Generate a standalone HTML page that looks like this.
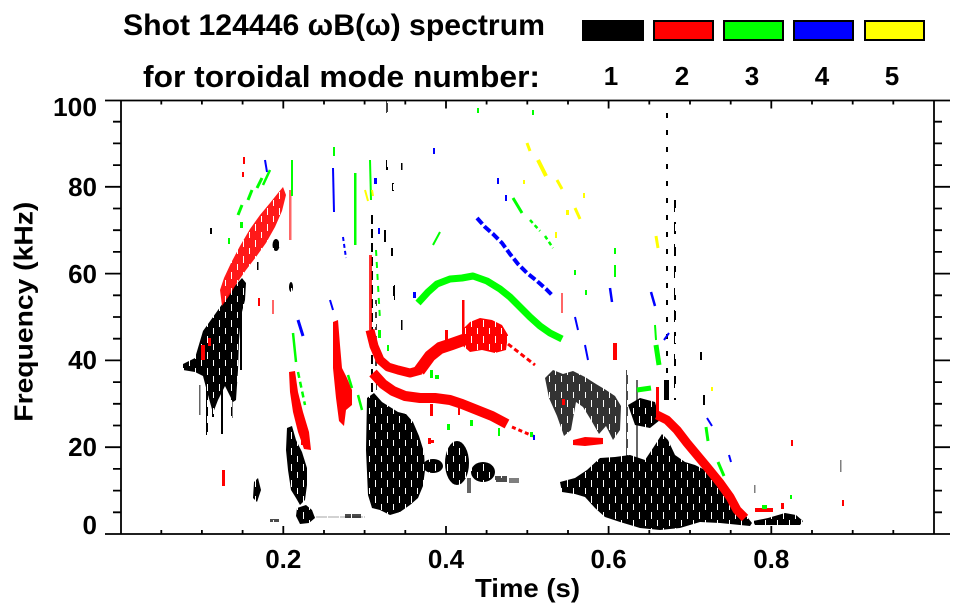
<!DOCTYPE html>
<html>
<head>
<meta charset="utf-8">
<style>
  html,body{margin:0;padding:0;background:#fff;}
  svg{display:block;}
  text{font-family:"Liberation Sans", Arial, sans-serif;font-weight:bold;fill:#000;}
</style>
</head>
<body>
<svg width="963" height="615" viewBox="0 0 963 615" xmlns="http://www.w3.org/2000/svg">
<defs>
  <pattern id="texpat" width="12" height="16" patternUnits="userSpaceOnUse">
    <rect width="12" height="16" fill="#fff"/>
    <rect x="3" y="0" width="1" height="7" fill="#000"/>
    <rect x="9" y="8" width="1" height="6" fill="#000"/>
  </pattern>
  <mask id="tex" maskUnits="userSpaceOnUse" x="0" y="0" width="963" height="615">
    <rect x="0" y="0" width="963" height="615" fill="url(#texpat)"/>
  </mask>
</defs>
<rect x="0" y="0" width="963" height="615" fill="#fff"/>

<!-- Title -->
<text x="123" y="35" font-size="30" textLength="422" lengthAdjust="spacingAndGlyphs">Shot 124446 ωB(ω) spectrum</text>
<text x="143" y="87" font-size="31" textLength="397" lengthAdjust="spacingAndGlyphs">for toroidal mode number:</text>

<!-- Legend boxes -->
<rect x="582" y="20" width="62" height="21" fill="#000"/>
<rect x="654" y="21" width="59" height="19" fill="#ff0000" stroke="#000" stroke-width="2"/>
<rect x="724" y="21" width="59" height="19" fill="#00ff00" stroke="#000" stroke-width="2"/>
<rect x="794" y="21" width="59" height="19" fill="#0000ff" stroke="#000" stroke-width="2"/>
<rect x="865" y="21" width="59" height="19" fill="#ffff00" stroke="#000" stroke-width="2"/>
<text x="611" y="85" font-size="26" text-anchor="middle">1</text>
<text x="682" y="85" font-size="26" text-anchor="middle">2</text>
<text x="752" y="85" font-size="26" text-anchor="middle">3</text>
<text x="822" y="85" font-size="26" text-anchor="middle">4</text>
<text x="892" y="85" font-size="26" text-anchor="middle">5</text>

<!-- ================= DATA ================= -->
<!-- BLACK (n=1) -->
<g fill="#000" stroke="none" mask="url(#tex)">
  <polygon points="183,364 195,358 203,331 213,317 223,303 233,288 242,278 246,283 245,300 241,316 239,340 238,370 236,400 233,402 225,386 218,400 213,413 208,395 203,376 195,372 183,370"/>
  <rect x="206" y="380" width="2" height="55"/>
  <rect x="212" y="395" width="2" height="22"/>
  <rect x="221" y="390" width="2" height="44"/>
  <rect x="231" y="398" width="1.5" height="20"/>
  <rect x="199" y="385" width="1.5" height="30" opacity="0.6"/>
  <rect x="240" y="300" width="2" height="70"/>
  <ellipse cx="276" cy="245" rx="3.5" ry="6"/>
  <ellipse cx="291" cy="287" rx="2" ry="5"/>
  <rect x="210" y="228" width="2" height="6"/>
  <rect x="257" y="262" width="1.5" height="8"/>
  <polygon points="287,428 292,426 296,440 302,452 307,468 307,485 305,500 300,505 296,498 291,490 288,470 286,450"/>
  <polygon points="297,508 306,505 312,510 315,518 309,523 300,524 296,516"/>
  <polygon points="254,482 258,478 261,490 257,502 253,498"/>
  <rect x="270" y="519" width="9" height="3" opacity="0.7"/>
  <rect x="345" y="514" width="16" height="4" opacity="0.7"/>
  <rect x="313" y="516.5" width="52" height="1" opacity="0.35"/>
  <!-- main blob 0.3-0.37 s -->
  <polygon points="367,398 374,393 382,402 390,407 398,412 406,414 413,422 419,436 424,452 425,470 423,486 418,498 410,505 400,512 390,515 380,510 372,508 368,495 366,450"/>
  <line x1="372" y1="215" x2="372" y2="395" stroke="#000" stroke-width="2" stroke-dasharray="9 5"/>
  <line x1="376" y1="300" x2="376" y2="395" stroke="#000" stroke-width="1.5" stroke-dasharray="6 6"/>
  <line x1="387" y1="100" x2="387" y2="113" stroke="#000" stroke-width="1.5"/>
  <rect x="386" y="160" width="2" height="10"/>
  <rect x="392" y="183" width="2" height="8"/>
  <rect x="401" y="163" width="1.5" height="7"/>
  <rect x="384" y="230" width="2" height="12"/>
  <rect x="391" y="248" width="2" height="8"/>
  <rect x="393" y="285" width="2" height="15"/>
  <rect x="401" y="320" width="1.5" height="10"/>
  <ellipse cx="433" cy="466" rx="10" ry="7"/>
  <ellipse cx="457" cy="463" rx="12" ry="22"/>
  <ellipse cx="483" cy="472" rx="12" ry="10"/>
  <rect x="495" y="476" width="12" height="6" opacity="0.7"/>
  <rect x="509" y="478" width="10" height="5" opacity="0.5"/>
  <rect x="467" y="478" width="4" height="15" opacity="0.6"/>
  <!-- right region -->
  <polygon points="545,378 553,370 563,374 573,371 585,377 596,384 606,390 615,396 621,406 620,430 613,440 606,426 599,434 591,420 583,407 576,402 571,430 564,436 557,416 549,398" opacity="0.8"/>
  <polygon points="628,405 640,398 655,402 660,420 650,428 635,425"/>
  <rect x="626" y="370" width="2" height="95" opacity="0.7"/>
  <rect x="636" y="380" width="2" height="80" opacity="0.6"/>
  <polygon points="560,482 575,478 587,470 600,458 615,457 630,455 645,460 655,445 662,434 668,440 675,455 685,462 695,465 705,470 715,478 722,490 730,500 740,510 748,518 752,523 750,526 720,523 700,522 680,528 660,530 640,528 620,522 605,517 595,508 585,497 575,494 562,492"/>
  <polygon points="753,521 768,518 785,513 796,515 803,521 800,525 755,525"/>
  <line x1="667" y1="113" x2="667" y2="400" stroke="#000" stroke-width="2" stroke-dasharray="5 12"/>
  <line x1="675" y1="200" x2="675" y2="400" stroke="#000" stroke-width="2" stroke-dasharray="12 10"/>
  <rect x="664" y="380" width="5" height="20"/>
  <rect x="700" y="352" width="2" height="8"/>
  <rect x="703" y="395" width="2" height="10"/>
  <rect x="840" y="460" width="1.5" height="12" opacity="0.5"/>
  <rect x="754" y="485" width="1.5" height="8" opacity="0.5"/>
</g>

<!-- RED (n=2) -->
<g fill="#ff0000" stroke="none">
  <g mask="url(#tex)">
  <polygon points="220,290 224,278 231,263 240,246 250,229 260,215 270,203 278,193 283,187 286,195 282,211 275,227 266,243 256,257 246,270 237,283 229,296 222,306" opacity="0.9"/>
  <polygon points="462,330 470,322 480,318 492,320 502,325 508,335 506,350 495,353 482,350 470,352 462,345"/>
  </g>
  <rect x="201" y="345" width="4" height="15"/>
  <rect x="208" y="338" width="3" height="8"/>
  <rect x="222" y="470" width="3" height="16"/>
  <rect x="243" y="157" width="2" height="7"/>
  <rect x="242" y="172" width="2" height="5"/>
  <rect x="258" y="298" width="2" height="8"/>
  <rect x="272" y="300" width="2" height="14" opacity="0.6"/>
  <polygon points="289,372 295,371 298,392 303,412 309,432 311,450 304,449 298,432 293,412 290,392"/>
  <rect x="289" y="190" width="2.5" height="50" opacity="0.6"/>
  <polygon points="333,322 338,320 340,345 342,368 347,378 352,390 352,405 346,410 344,426 339,421 336,398 333,368"/>
  <rect x="301" y="435" width="2" height="10"/>
  <!-- upper curve -->
  <rect x="369" y="255" width="3" height="75" opacity="0.8"/>
  <polyline points="370,330 374,346 380,360 388,367 398,370 410,373 421,370" fill="none" stroke="#ff0000" stroke-width="9" stroke-linejoin="round"/>
  <polyline points="419,371 430,356 440,348 452,344 466,339" fill="none" stroke="#ff0000" stroke-width="12" stroke-linejoin="round"/>
  <rect x="462" y="300" width="2.5" height="30"/>
  <rect x="445" y="330" width="3" height="20"/>
  <line x1="508" y1="344" x2="535" y2="365" stroke="#ff0000" stroke-width="3" stroke-dasharray="5 3"/>
  <!-- lower curve -->
  <polyline points="373,373 383,384 393,391 405,396 420,398 435,398 450,400 462,404 477,410 492,416 507,424" fill="none" stroke="#ff0000" stroke-width="10" stroke-linejoin="round"/>
  <line x1="512" y1="427" x2="533" y2="436" stroke="#ff0000" stroke-width="3" stroke-dasharray="4 3"/>
  <rect x="430" y="404" width="3" height="12"/>
  <rect x="458" y="405" width="2" height="10"/>
  <rect x="428" y="438" width="3" height="6"/>
  <rect x="428" y="440" width="6" height="3"/>
  <polygon points="573,440 585,437 603,438 603,444 585,446 573,445"/>
  <rect x="613" y="343" width="4" height="17"/>
  <rect x="561" y="293" width="2" height="20" opacity="0.6"/>
  <rect x="562" y="399" width="3" height="6"/>
  <!-- diagonal 0.66-0.76 -->
  <rect x="656" y="387" width="3" height="30"/>
  <polyline points="657,415 667,420 677,430 687,443 697,455 707,467 720,483 730,497 737,510 745,518" fill="none" stroke="#ff0000" stroke-width="9" stroke-linejoin="round"/>
  <rect x="755" y="508" width="18" height="4"/>
  <rect x="781" y="503" width="3" height="6"/>
  <rect x="791" y="440" width="2" height="6"/>
  <rect x="842" y="500" width="2" height="6"/>
</g>

<!-- GREEN (n=3) -->
<g fill="#00ff00" stroke="none">
  <polyline points="418,303 428,292 437,284 450,279 462,278 473,276 487,281 500,289 510,297 520,307 530,317 540,326 550,333 562,339" fill="none" stroke="#00ff00" stroke-width="7" stroke-linejoin="round"/>
  <line x1="513" y1="198" x2="522" y2="213" stroke="#00ff00" stroke-width="3"/>
  <line x1="530" y1="220" x2="540" y2="231" stroke="#00ff00" stroke-width="2.5" stroke-dasharray="4 3"/>
  <line x1="545" y1="236" x2="553" y2="248" stroke="#00ff00" stroke-width="2.5" stroke-dasharray="4 3"/>
  <rect x="532" y="110" width="2" height="5"/>
  <rect x="477" y="108" width="2" height="5"/>
  <line x1="433" y1="245" x2="440" y2="232" stroke="#00ff00" stroke-width="2"/>
  <line x1="238" y1="215" x2="242" y2="205" stroke="#00ff00" stroke-width="3"/>
  <line x1="248" y1="200" x2="252" y2="190" stroke="#00ff00" stroke-width="3"/>
  <line x1="257" y1="188" x2="262" y2="178" stroke="#00ff00" stroke-width="3"/>
  <line x1="263" y1="185" x2="270" y2="170" stroke="#00ff00" stroke-width="2.5"/>
  <rect x="240" y="222" width="3" height="6"/>
  <rect x="228" y="238" width="2" height="6"/>
  <rect x="291" y="160" width="2" height="36"/>
  <rect x="354" y="173" width="2.5" height="72"/>
  <rect x="333" y="147" width="2" height="9"/>
  <line x1="293" y1="333" x2="296" y2="362" stroke="#00ff00" stroke-width="2.5"/>
  <line x1="298" y1="372" x2="305" y2="405" stroke="#00ff00" stroke-width="2.5" stroke-dasharray="6 4"/>
  <line x1="348" y1="375" x2="352" y2="388" stroke="#00ff00" stroke-width="2.5"/>
  <line x1="358" y1="395" x2="362" y2="410" stroke="#00ff00" stroke-width="2.5"/>
  <line x1="370" y1="160" x2="371" y2="200" stroke="#00ff00" stroke-width="2"/>
  <line x1="376" y1="250" x2="380" y2="320" stroke="#00ff00" stroke-width="2" stroke-dasharray="6 6"/>
  <rect x="378" y="330" width="3" height="8"/>
  <rect x="387" y="345" width="2" height="6"/>
  <rect x="430" y="370" width="3" height="8"/>
  <rect x="435" y="375" width="4" height="4"/>
  <rect x="470" y="420" width="3" height="6"/>
  <rect x="447" y="424" width="3" height="6"/>
  <rect x="498" y="428" width="2" height="8"/>
  <rect x="530" y="432" width="3" height="5"/>
  <line x1="656" y1="345" x2="659" y2="365" stroke="#00ff00" stroke-width="5"/>
  <line x1="655" y1="325" x2="656" y2="340" stroke="#00ff00" stroke-width="2"/>
  <line x1="637" y1="390" x2="651" y2="388" stroke="#00ff00" stroke-width="5"/>
  <line x1="706" y1="427" x2="708" y2="441" stroke="#00ff00" stroke-width="3"/>
  <line x1="718" y1="462" x2="724" y2="476" stroke="#00ff00" stroke-width="3"/>
  <rect x="762" y="505" width="5" height="4"/>
  <rect x="790" y="495" width="2" height="4"/>
  <rect x="614" y="248" width="2" height="6"/>
  <rect x="614" y="265" width="2" height="12"/>
  <rect x="585" y="290" width="2" height="5"/>
  <rect x="574" y="270" width="2" height="5"/>
</g>

<!-- BLUE (n=4) -->
<g fill="#0000ff" stroke="none">
  <polyline points="477,218 485,227 493,234 502,243 510,254 518,264 527,273 537,281 546,289 553,296" fill="none" stroke="#0000ff" stroke-width="4" stroke-dasharray="8 3"/>
  <line x1="265" y1="160" x2="267" y2="172" stroke="#0000ff" stroke-width="2"/>
  <line x1="333" y1="168" x2="334" y2="212" stroke="#0000ff" stroke-width="2"/>
  <line x1="298" y1="320" x2="303" y2="336" stroke="#0000ff" stroke-width="3"/>
  <line x1="343" y1="237" x2="346" y2="258" stroke="#0000ff" stroke-width="2" stroke-dasharray="4 3"/>
  <line x1="330" y1="300" x2="333" y2="310" stroke="#0000ff" stroke-width="2"/>
  <rect x="374" y="178" width="3" height="6"/>
  <rect x="378" y="228" width="2" height="6"/>
  <rect x="413" y="292" width="3" height="6"/>
  <rect x="433" y="148" width="2" height="6"/>
  <rect x="497" y="178" width="2" height="6"/>
  <rect x="505" y="195" width="2" height="6"/>
  <line x1="575" y1="317" x2="578" y2="330" stroke="#0000ff" stroke-width="2"/>
  <line x1="585" y1="345" x2="588" y2="360" stroke="#0000ff" stroke-width="2"/>
  <line x1="610" y1="288" x2="612" y2="302" stroke="#0000ff" stroke-width="2.5"/>
  <line x1="651" y1="292" x2="655" y2="306" stroke="#0000ff" stroke-width="2.5"/>
  <line x1="664" y1="340" x2="669" y2="333" stroke="#0000ff" stroke-width="2"/>
  <line x1="707" y1="418" x2="712" y2="426" stroke="#0000ff" stroke-width="2"/>
  <line x1="729" y1="455" x2="731" y2="462" stroke="#0000ff" stroke-width="2"/>
  <rect x="533" y="435" width="2" height="5"/>
</g>

<!-- YELLOW (n=5) -->
<g fill="#ffff00" stroke="none">
  <line x1="527" y1="143" x2="530" y2="151" stroke="#ffff00" stroke-width="3"/>
  <line x1="538" y1="160" x2="546" y2="176" stroke="#ffff00" stroke-width="4"/>
  <line x1="557" y1="180" x2="562" y2="189" stroke="#ffff00" stroke-width="3"/>
  <line x1="575" y1="208" x2="580" y2="219" stroke="#ffff00" stroke-width="3"/>
  <rect x="566" y="210" width="3" height="5"/>
  <rect x="583" y="193" width="2" height="5"/>
  <rect x="555" y="232" width="2" height="6"/>
  <rect x="523" y="180" width="2" height="4"/>
  <line x1="656" y1="236" x2="658" y2="248" stroke="#ffff00" stroke-width="3"/>
  <line x1="365" y1="190" x2="368" y2="201" stroke="#ffff00" stroke-width="2"/>
  <line x1="372" y1="190" x2="373" y2="196" stroke="#ffff00" stroke-width="2"/>
  <rect x="711" y="387" width="2" height="4"/>
</g>

<!-- ================= AXES ================= -->
<g stroke="#000" stroke-width="1.8" fill="none">
  <line x1="105" y1="100.5" x2="950" y2="100.5"/>
  <line x1="105" y1="534" x2="950" y2="534"/>
  <line x1="121" y1="100" x2="121" y2="534"/>
  <line x1="934" y1="100" x2="934" y2="534"/>
  <path d="M105 447.2H121M105 360.4H121M105 273.6H121M105 186.8H121
           M934 447.2H950M934 360.4H950M934 273.6H950M934 186.8H950"/>
  <path d="M113 512.3H121M113 490.6H121M113 468.9H121M113 425.5H121M113 403.8H121M113 382.1H121M113 338.7H121M113 317H121M113 295.3H121M113 251.9H121M113 230.2H121M113 208.5H121M113 165.1H121M113 143.4H121M113 121.7H121
           M934 512.3H942M934 490.6H942M934 468.9H942M934 425.5H942M934 403.8H942M934 382.1H942M934 338.7H942M934 317H942M934 295.3H942M934 251.9H942M934 230.2H942M934 208.5H942M934 165.1H942M934 143.4H942M934 121.7H942"/>
  <path d="M161.3 534V530M201.9 534V530M242.6 534V530M283.3 534V526M324 534V530M364.6 534V530M405.3 534V530M446 534V526M486.6 534V530M527.3 534V530M568 534V530M608.6 534V526M649.3 534V530M690 534V530M730.7 534V530M771.3 534V526M812 534V530M852.7 534V530M893.3 534V530"/>
  <path d="M161.3 100.5V104.5M201.9 100.5V104.5M242.6 100.5V104.5M283.3 100.5V108.5M324 100.5V104.5M364.6 100.5V104.5M405.3 100.5V104.5M446 100.5V108.5M486.6 100.5V104.5M527.3 100.5V104.5M568 100.5V104.5M608.6 100.5V108.5M649.3 100.5V104.5M690 100.5V104.5M730.7 100.5V104.5M771.3 100.5V108.5M812 100.5V104.5M852.7 100.5V104.5M893.3 100.5V104.5"/>
</g>

<!-- Tick labels -->
<g font-size="26" text-anchor="end">
  <text x="97" y="116" textLength="44" lengthAdjust="spacingAndGlyphs">100</text>
  <text x="97" y="196">80</text>
  <text x="97" y="283">60</text>
  <text x="97" y="369">40</text>
  <text x="97" y="456">20</text>
  <text x="97" y="534">0</text>
</g>
<g font-size="26" text-anchor="middle">
  <text x="283.3" y="568">0.2</text>
  <text x="446" y="568">0.4</text>
  <text x="608.6" y="568">0.6</text>
  <text x="771.3" y="568">0.8</text>
</g>

<!-- Axis titles -->
<text x="527.5" y="597" font-size="26" text-anchor="middle" textLength="105" lengthAdjust="spacingAndGlyphs">Time (s)</text>
<text transform="translate(32.5,311.7) rotate(-90)" x="0" y="0" font-size="26" text-anchor="middle" textLength="220" lengthAdjust="spacingAndGlyphs">Frequency (kHz)</text>
</svg>
</body>
</html>
